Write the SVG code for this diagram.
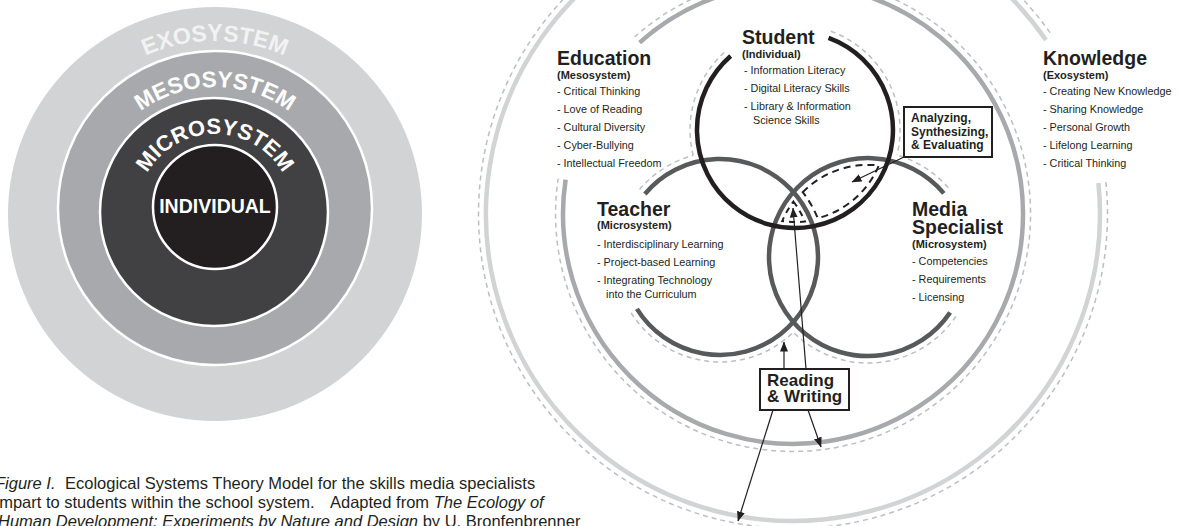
<svg xmlns="http://www.w3.org/2000/svg" width="1178" height="526" viewBox="0 0 1178 526">
<style>
text{font-family:"Liberation Sans",Arial,sans-serif;fill:#231f20}
.ring{font-size:23px;font-weight:bold;fill:#ffffff}
.title{font-size:19.5px;font-weight:bold}
.sub{font-size:11px;font-weight:bold}
.item{font-size:10.8px}
.boxt{font-size:12px;font-weight:bold}
.boxt2{font-size:17px;font-weight:bold}
.cap{font-size:16.5px}
.it{font-style:italic}
.venn{fill:none;stroke-width:4.5}
.sys{fill:none;stroke-width:4.5}
.dash{fill:none;stroke:#bcbec0;stroke-width:1.5;stroke-dasharray:5 4}
.conn{fill:none;stroke:#231f20;stroke-width:1.2}
.box{fill:#ffffff;stroke:#231f20;stroke-width:2}
.region{fill:none;stroke:#231f20;stroke-width:2;stroke-dasharray:7 5}
</style>
<defs>
<marker id="ah" viewBox="0 0 10 8" refX="9.5" refY="4" markerWidth="10" markerHeight="8" markerUnits="userSpaceOnUse" orient="auto">
<path d="M0,0 L10,4 L0,8 z" fill="#231f20"/>
</marker>
<path id="arcExo" d="M 43 213 A 172 172 0 0 1 387 213"/>
<path id="arcMeso" d="M 90 212 A 125 125 0 0 1 340 212"/>
<path id="arcMicro" d="M 137 212 A 78 78 0 0 1 293 212"/>
<mask id="mT" maskUnits="userSpaceOnUse" x="0" y="0" width="1178" height="526">
<rect width="1178" height="526" fill="#fff"/>
<circle cx="795" cy="130" r="105" fill="#000"/>
<circle cx="868" cy="257" r="106" fill="#000"/>
</mask>
<mask id="mM" maskUnits="userSpaceOnUse" x="0" y="0" width="1178" height="526">
<rect width="1178" height="526" fill="#fff"/>
<circle cx="795" cy="130" r="105" fill="#000"/>
<circle cx="720" cy="257" r="105" fill="#000"/>
</mask>
<mask id="mS" maskUnits="userSpaceOnUse" x="0" y="0" width="1178" height="526">
<rect width="1178" height="526" fill="#fff"/>
<circle cx="720" cy="257" r="105" fill="#000"/>
<circle cx="868" cy="257" r="106" fill="#000"/>
</mask>
</defs>

<g id="ecological-model">
<circle cx="215" cy="214" r="207" fill="#d1d3d4"/>
<circle cx="215" cy="208" r="157" fill="#a7a9ac" stroke="#ffffff" stroke-width="2.5"/>
<circle cx="214" cy="212" r="114" fill="#414042" stroke="#ffffff" stroke-width="2.5"/>
<circle cx="215" cy="207" r="62" fill="#231f20" stroke="#ffffff" stroke-width="2.5"/>
<text class="ring" style="fill:#f1f2f2"><textPath href="#arcExo" startOffset="50%" text-anchor="middle">EXOSYSTEM</textPath></text>
<text class="ring" style="font-size:22.5px"><textPath href="#arcMeso" startOffset="50%" text-anchor="middle">MESOSYSTEM</textPath></text>
<text class="ring" style="font-size:22px"><textPath href="#arcMicro" startOffset="50%" text-anchor="middle">MICROSYSTEM</textPath></text>
<text x="215" y="213" text-anchor="middle" style="font-size:19.5px;font-weight:bold;fill:#ffffff">INDIVIDUAL</text>
</g>

<g id="caption">
<text class="cap" x="-5" y="489"><tspan class="it">Figure I.</tspan><tspan x="65">Ecological Systems Theory Model for the skills media specialists</tspan></text>
<text class="cap" x="-4.5" y="508">impart to students within the school system.<tspan x="330">Adapted from </tspan><tspan class="it">The Ecology of</tspan></text>
<text class="cap" x="-2" y="527"><tspan class="it">Human Development: Experiments by Nature and Design</tspan> by U. Bronfenbrenner</text>
</g>

<g id="system-rings">
<path class="sys" stroke="#d1d3d4" d="M 1098.4 183 A 307 307 0 1 1 1046 40.1"/>
<path class="dash" d="M 1105.9 182.2 A 314.5 314.5 0 1 1 1052.2 35.8"/>
<path class="sys" stroke="#a7a9ac" d="M 639.6 42.6 A 230 230 0 1 1 565.6 179.6"/>
<path class="dash" d="M 634.6 37 A 237.5 237.5 0 1 1 558.2 178.5"/>
</g>

<g id="venn-outline">
<path class="dash" mask="url(#mS)" d="M 830.9 31.3 A 105 105 0 1 1 726.1 50.8"/>
<path class="dash" mask="url(#mT)" d="M 639.6 189.5 A 105 105 0 1 1 631 312.6"/>
<path class="dash" mask="url(#mM)" d="M 955.9 316.3 A 106 106 0 1 1 949.2 188.9"/>
</g>

<g id="node-teacher">
<path class="venn" stroke="#58595b" d="M 644.9 194 A 98 98 0 1 1 636.9 308.9"/>
<text class="title" x="597" y="216">Teacher</text>
<text class="sub" x="597" y="229">(Microsystem)</text>
<text class="item" x="597" y="248">- Interdisciplinary Learning</text>
<text class="item" x="597" y="266">- Project-based Learning</text>
<text class="item" x="597" y="284">- Integrating Technology</text>
<text class="item" x="606" y="298">into the Curriculum</text>
</g>

<g id="node-media-specialist">
<path class="venn" stroke="#58595b" d="M 950.1 312.4 A 99 99 0 1 1 943.8 193.4"/>
<text class="title" x="912" y="216">Media</text>
<text class="title" x="912" y="234">Specialist</text>
<text class="sub" x="912" y="248">(Microsystem)</text>
<text class="item" x="912" y="265">- Competencies</text>
<text class="item" x="912" y="283">- Requirements</text>
<text class="item" x="912" y="301">- Licensing</text>
</g>

<g id="node-student">
<path class="venn" stroke="#231f20" d="M 828.5 37.9 A 98 98 0 1 1 730.7 56"/>
<text class="title" x="742" y="44">Student</text>
<text class="sub" x="742" y="58">(Individual)</text>
<text class="item" x="744" y="74">- Information Literacy</text>
<text class="item" x="744" y="92">- Digital Literacy Skills</text>
<text class="item" x="744" y="110">- Library &amp; Information</text>
<text class="item" x="753" y="124">Science Skills</text>
</g>

<g id="node-education">
<text class="title" x="557" y="65">Education</text>
<text class="sub" x="557" y="79">(Mesosystem)</text>
<text class="item" x="557" y="95">- Critical Thinking</text>
<text class="item" x="557" y="113">- Love of Reading</text>
<text class="item" x="557" y="131">- Cultural Diversity</text>
<text class="item" x="557" y="149">- Cyber-Bullying</text>
<text class="item" x="557" y="167">- Intellectual Freedom</text>
</g>

<g id="node-knowledge">
<text class="title" x="1043" y="65">Knowledge</text>
<text class="sub" x="1043" y="79">(Exosystem)</text>
<text class="item" x="1043" y="95">- Creating New Knowledge</text>
<text class="item" x="1043" y="113">- Sharing Knowledge</text>
<text class="item" x="1043" y="131">- Personal Growth</text>
<text class="item" x="1043" y="149">- Lifelong Learning</text>
<text class="item" x="1043" y="167">- Critical Thinking</text>
</g>

<g id="regions">
<path class="region" d="M 802.7 192.2 A 92 92 0 0 1 878.8 165.5 A 91 91 0 0 1 817.7 218.2 A 105 105 0 0 0 802.7 192.2 Z"/>
<path class="region" style="stroke-dasharray:6 5" d="M 793.4 201.5 A 92 92 0 0 1 804.9 221.5 A 92 92 0 0 1 782.2 221.1 A 93 93 0 0 1 793.4 201.5 Z"/>
</g>

<g id="connectors">
<line class="conn" x1="904" y1="157" x2="852" y2="182" marker-end="url(#ah)"/>
<line class="conn" x1="784" y1="369" x2="784" y2="342" marker-end="url(#ah)"/>
<line class="conn" x1="806" y1="369" x2="793" y2="208" marker-end="url(#ah)"/>
<line class="conn" x1="773" y1="410" x2="738" y2="521" marker-end="url(#ah)"/>
<line class="conn" x1="808" y1="410" x2="821" y2="447" marker-end="url(#ah)"/>
</g>

<g id="box-analyzing">
<rect class="box" x="904" y="107" width="88" height="50"/>
<text class="boxt" x="911" y="122">Analyzing,</text>
<text class="boxt" x="911" y="135.5">Synthesizing,</text>
<text class="boxt" x="911" y="149">&amp; Evaluating</text>
</g>

<g id="box-reading">
<rect class="box" x="760" y="369" width="89" height="41"/>
<text class="boxt2" x="767" y="386">Reading</text>
<text class="boxt2" x="767" y="402">&amp; Writing</text>
</g>
</svg>
